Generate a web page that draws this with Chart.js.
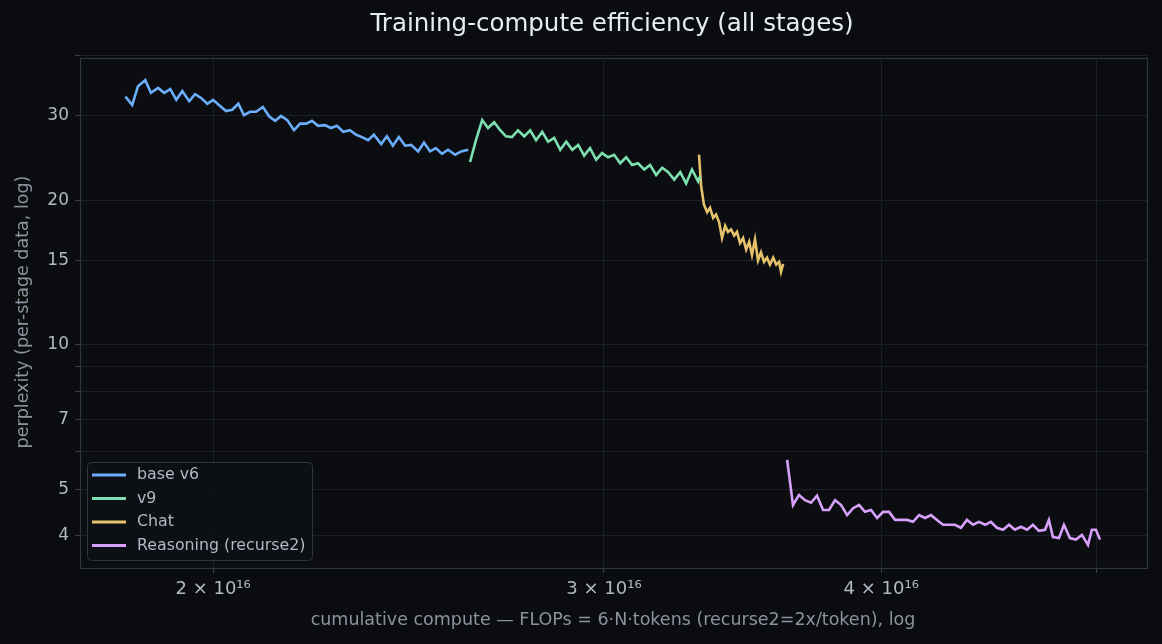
<!DOCTYPE html>
<html><head><meta charset="utf-8">
<script src="https://cdn.jsdelivr.net/npm/chart.js@4"></script>
<style>html,body{margin:0;padding:0;background:#0a0c10;}#w{width:1162px;height:644px;}</style>
</head><body><div id="w"><canvas id="c"></canvas></div>
<script>
const E = 1e16;
const baseX = [1.826,1.839,1.850,1.864,1.875,1.889,1.901,1.913,1.925,1.937,1.951,1.963,1.975,1.988,2.000,2.012,2.027,2.040,2.053,2.065,2.078,2.091,2.106,2.120,2.133,2.146,2.160,2.175,2.189,2.203,2.216,2.230,2.246,2.260,2.274,2.289,2.305,2.320,2.334,2.349,2.363,2.381,2.395,2.410,2.425,2.441,2.456,2.474,2.489,2.505,2.520,2.536,2.552,2.571,2.587,2.606];
const baseY = [32.9,31.6,34.6,35.6,33.5,34.3,33.5,34.1,32.4,33.8,32.2,33.3,32.7,31.8,32.4,31.6,30.7,30.9,31.8,30.1,30.6,30.6,31.3,29.9,29.3,30.0,29.4,28.0,28.9,28.9,29.3,28.6,28.7,28.3,28.6,27.8,28.0,27.4,27.1,26.7,27.4,26.2,27.2,26.0,27.1,26.0,26.1,25.3,26.4,25.3,25.7,25.0,25.5,24.9,25.3,25.5];
const v9X = [2.611,2.627,2.644,2.660,2.677,2.694,2.710,2.727,2.744,2.762,2.779,2.796,2.814,2.831,2.849,2.867,2.885,2.903,2.921,2.939,2.957,2.976,2.994,3.013,3.032,3.051,3.070,3.089,3.108,3.128,3.147,3.167,3.187,3.207,3.227,3.247,3.267,3.287,3.308,3.315];
const v9Y = [24.05,26.7,29.4,28.3,29.1,28.0,27.2,27.1,28.0,27.2,28.0,26.7,27.8,26.5,27.0,25.5,26.5,25.5,26.1,24.8,25.7,24.3,25.1,24.6,24.9,23.9,24.6,23.7,23.9,23.2,23.7,22.6,23.4,22.9,22.1,22.9,21.7,23.2,21.9,22.5];
const chatX = [3.311,3.318,3.328,3.339,3.349,3.360,3.370,3.381,3.391,3.402,3.412,3.423,3.434,3.444,3.455,3.466,3.477,3.488,3.498,3.509,3.520,3.531,3.542,3.553,3.564,3.576,3.587,3.598,3.605,3.613];
const chatY = [24.9,21.5,19.6,18.9,19.3,18.4,18.7,18.0,16.7,17.7,17.2,17.4,16.9,17.2,16.3,16.7,15.8,16.4,15.4,16.6,15.0,15.6,14.9,15.2,14.7,15.2,14.7,14.9,14.2,14.75];
const reasX = [3.628,3.650,3.673,3.696,3.719,3.742,3.766,3.789,3.813,3.837,3.861,3.885,3.909,3.933,3.958,3.983,4.008,4.033,4.058,4.083,4.109,4.134,4.160,4.186,4.212,4.238,4.265,4.291,4.318,4.345,4.372,4.400,4.427,4.455,4.482,4.510,4.539,4.567,4.595,4.624,4.653,4.682,4.711,4.741,4.760,4.780,4.810,4.835,4.865,4.895,4.926,4.957,4.977,4.998,5.019];
const reasY = [5.76,4.64,4.87,4.75,4.69,4.85,4.53,4.53,4.75,4.64,4.42,4.57,4.64,4.49,4.53,4.36,4.49,4.49,4.32,4.32,4.32,4.28,4.42,4.36,4.42,4.32,4.22,4.22,4.22,4.16,4.32,4.22,4.28,4.22,4.28,4.16,4.12,4.22,4.12,4.18,4.12,4.22,4.10,4.12,4.32,3.98,3.96,4.22,3.96,3.93,4.02,3.83,4.12,4.12,3.93];
const xTicks = [2,3,4,5];
const xTickLabels = ['2 × 10¹⁶','3 × 10¹⁶','4 × 10¹⁶',''];
const yTicks = [4,5,6,7,8,9,10,15,20,30,40];
const yTickLabels = {4:'4',5:'5',7:'7',10:'10',15:'15',20:'20',30:'30'};
const names = ['base v6','v9','Chat','Reasoning (recurse2)'];
const colors = ['#6aaefc','#7de0b0','#e6c36a','#d7a0fa'];

const series = [[baseX,baseY],[v9X,v9Y],[chatX,chatY],[reasX,reasY]];
const datasets = series.map((s,i)=>({label:names[i],data:s[0].map((x,j)=>({x:x*E,y:s[1][j]})),borderColor:colors[i],borderWidth:2.6,pointRadius:0,tension:0,fill:false}));
const F = 'DejaVu Sans';
const deco = {
  id:'deco',
  beforeDraw(ch){const {ctx,chartArea:a}=ch;ctx.save();ctx.fillStyle='#0a0c10';ctx.fillRect(0,0,ch.width,ch.height);ctx.fillStyle='#0b0d11';ctx.fillRect(a.left,a.top,a.right-a.left,a.bottom-a.top);ctx.restore();},
  afterDraw(ch){const {ctx,chartArea:a}=ch;ctx.save();
    ctx.strokeStyle='#30363d';ctx.lineWidth=1.2;ctx.strokeRect(a.left+0.5,a.top+0.5,a.right-a.left,a.bottom-a.top);
    ctx.fillStyle='#e6edf3';ctx.font='24.5px '+F;ctx.textAlign='center';ctx.textBaseline='middle';ctx.fillText('Training-compute efficiency (all stages)',612,25);
    ctx.fillStyle='#8b949e';ctx.font='17.5px '+F;ctx.fillText('cumulative compute — FLOPs = 6·N·tokens (recurse2=2x/token), log',613,620);
    ctx.translate(23,312);ctx.rotate(-Math.PI/2);ctx.fillText('perplexity (per-stage data, log)',0,0);ctx.setTransform(1,0,0,1,0,0);
    const dpr=ch.currentDevicePixelRatio||1;ctx.scale(dpr,dpr);
    const lx=87,ly=462,lw=225,lh=98;
    ctx.fillStyle='rgba(13,16,21,0.85)';ctx.strokeStyle='#30363d';ctx.lineWidth=1;
    ctx.beginPath();ctx.roundRect(lx+0.5,ly+0.5,lw,lh,4);ctx.fill();ctx.stroke();
    ctx.font='15.8px '+F;ctx.textAlign='left';
    names.forEach((n,i)=>{const y=ly+13+i*23.5;ctx.strokeStyle=colors[i];ctx.lineWidth=3;ctx.beginPath();ctx.moveTo(92,y);ctx.lineTo(126,y);ctx.stroke();ctx.fillStyle='#b1bac4';ctx.fillText(n,137,y);});
    ctx.restore();}
};
new Chart(document.getElementById('c'),{
  type:'line',
  data:{datasets},
  options:{responsive:true,maintainAspectRatio:false,animation:false,
    layout:{padding:{top:58,right:15,left:0,bottom:0}},
    plugins:{legend:{display:false},title:{display:false},tooltip:{enabled:false}},
    scales:{
      x:{type:'logarithmic',min:1.742e16,max:5.27e16,
        afterBuildTicks(s){s.ticks=xTicks.map(v=>({value:v*E}));},
        afterFit(s){s.height=76;},
        ticks:{color:'#b1bac4',font:{family:F,size:18},padding:6,autoSkip:false,maxRotation:0,callback:(v,i)=>xTickLabels[i]},
        grid:{color:'#1c2128',lineWidth:1,tickColor:'#3a4048',tickLength:5},border:{display:false}},
      y:{type:'logarithmic',min:3.43,max:39.6,
        afterBuildTicks(s){s.ticks=yTicks.map(v=>({value:v}));},
        afterFit(s){s.width=80;},
        ticks:{color:'#b1bac4',font:{family:F,size:17},padding:6,autoSkip:false,callback:(v)=>yTickLabels[v]||''},
        grid:{color:'#1c2128',lineWidth:1,tickColor:'#3a4048',tickLength:5},border:{display:false}}
    }},
  plugins:[deco]
});
</script></body></html>
